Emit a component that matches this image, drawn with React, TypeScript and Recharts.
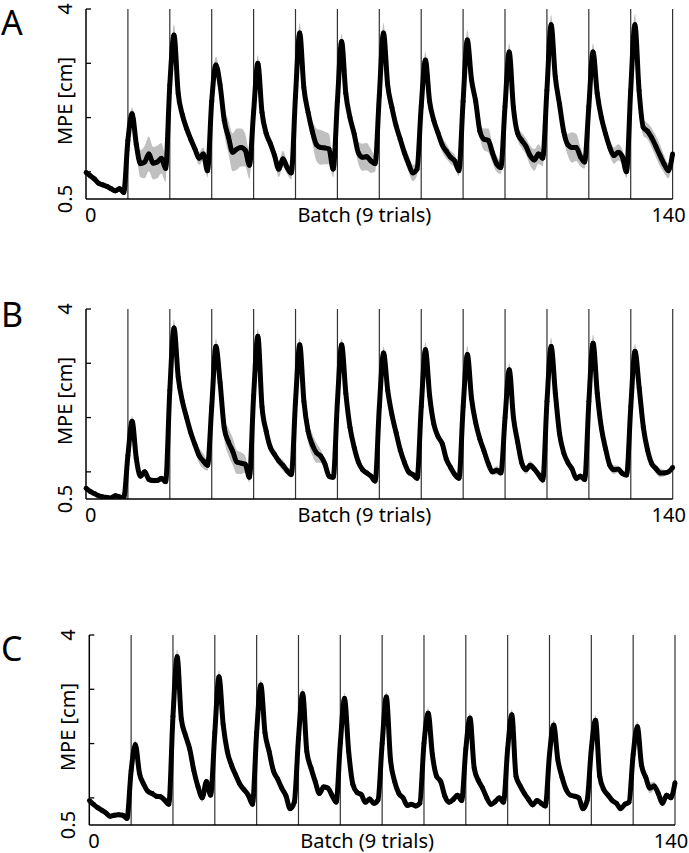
import { Area, ComposedChart, Label, Line, ReferenceLine, XAxis, YAxis } from "recharts";

const FONT = '"Noto Sans", "DejaVu Sans", sans-serif';

// mean movement-path error per batch (0..140), one array per condition
const mpeA = [
  0.99, 0.93, 0.87, 0.79, 0.76, 0.73, 0.69, 0.65, 0.69, 0.62,
  1.58, 2.07, 1.51, 1.15, 1.18, 1.33, 1.16, 1.18, 1.25, 1.06,
  2.6, 3.52, 2.45, 2.05, 1.8, 1.6, 1.42, 1.25, 1.33, 1.02,
  2.3, 2.97, 2.6, 1.95, 1.64, 1.36, 1.42, 1.45, 1.4, 1.12,
  2.1, 3.0, 2.1, 1.71, 1.52, 1.3, 1.05, 1.24, 1.08, 0.98,
  2.4, 3.56, 2.55, 2.1, 1.75, 1.5, 1.45, 1.44, 1.42, 1.05,
  2.3, 3.4, 2.45, 2.0, 1.7, 1.35, 1.27, 1.28, 1.2, 1.15,
  2.4, 3.56, 2.6, 2.19, 1.85, 1.6, 1.35, 1.15, 0.98, 1.05,
  2.2, 3.06, 2.3, 1.95, 1.72, 1.5, 1.38, 1.27, 1.2, 1.02,
  2.3, 3.43, 2.7, 2.3, 1.75, 1.6, 1.58, 1.35, 1.15, 1.08,
  2.2, 3.21, 2.19, 1.71, 1.58, 1.47, 1.3, 1.22, 1.33, 1.25,
  2.5, 3.71, 2.75, 2.25, 1.75, 1.5, 1.45, 1.45, 1.28, 1.18,
  2.2, 3.21, 2.45, 2.0, 1.7, 1.45, 1.3, 1.36, 1.28, 1.0,
  2.5, 3.71, 2.5, 1.82, 1.75, 1.63, 1.47, 1.3, 1.14, 1.02,
  1.33,
];
const semA = [
  0.05, 0.05, 0.05, 0.05, 0.05, 0.05, 0.05, 0.05, 0.05, 0.05,
  0.1, 0.12, 0.15, 0.25, 0.3, 0.32, 0.3, 0.3, 0.28, 0.25,
  0.12, 0.2, 0.12, 0.1, 0.1, 0.1, 0.1, 0.12, 0.12, 0.12,
  0.12, 0.15, 0.18, 0.25, 0.3, 0.35, 0.38, 0.35, 0.3, 0.25,
  0.12, 0.15, 0.12, 0.12, 0.12, 0.12, 0.15, 0.15, 0.12, 0.12,
  0.15, 0.18, 0.12, 0.12, 0.2, 0.3, 0.32, 0.3, 0.28, 0.15,
  0.12, 0.15, 0.1, 0.1, 0.15, 0.2, 0.25, 0.25, 0.22, 0.15,
  0.12, 0.18, 0.1, 0.1, 0.1, 0.12, 0.15, 0.15, 0.15, 0.12,
  0.12, 0.15, 0.12, 0.12, 0.12, 0.14, 0.14, 0.12, 0.12, 0.1,
  0.12, 0.18, 0.15, 0.12, 0.12, 0.2, 0.22, 0.18, 0.15, 0.12,
  0.12, 0.16, 0.12, 0.12, 0.14, 0.15, 0.18, 0.2, 0.18, 0.15,
  0.12, 0.18, 0.15, 0.12, 0.15, 0.2, 0.28, 0.25, 0.18, 0.12,
  0.12, 0.16, 0.12, 0.12, 0.14, 0.14, 0.15, 0.15, 0.14, 0.12,
  0.15, 0.2, 0.15, 0.15, 0.15, 0.18, 0.2, 0.2, 0.16, 0.14,
  0.1,
];

const mpeB = [
  0.7, 0.64, 0.6, 0.56, 0.54, 0.53, 0.52, 0.56, 0.54, 0.52,
  1.3, 1.93, 1.25, 0.92, 1.0, 0.86, 0.84, 0.84, 0.88, 0.82,
  2.5, 3.65, 2.75, 2.3, 2.0, 1.72, 1.5, 1.3, 1.2, 1.12,
  2.2, 3.31, 2.64, 1.8, 1.55, 1.38, 1.18, 1.16, 1.14, 0.9,
  2.4, 3.5, 2.2, 1.75, 1.45, 1.32, 1.2, 1.12, 1.02, 0.95,
  2.3, 3.34, 2.3, 1.75, 1.5, 1.35, 1.29, 1.15, 0.92, 0.9,
  2.3, 3.34, 2.45, 1.82, 1.45, 1.18, 1.04, 0.98, 0.92, 0.83,
  2.2, 3.19, 2.5, 2.05, 1.72, 1.4, 1.17, 1.0, 0.95, 0.88,
  2.2, 3.25, 2.4, 1.88, 1.65, 1.52, 1.23, 1.08, 0.95, 0.88,
  2.2, 3.16, 2.35, 1.9, 1.6, 1.38, 1.15, 1.0, 1.03, 0.98,
  2.0, 2.88, 2.0, 1.55, 1.16, 1.04, 1.12, 1.05, 0.95, 0.85,
  2.3, 3.31, 2.45, 1.7, 1.35, 1.17, 1.05, 0.88, 0.92, 0.86,
  2.3, 3.37, 2.45, 1.8, 1.42, 1.12, 1.04, 1.05, 0.97, 0.94,
  2.2, 3.22, 2.55, 1.82, 1.4, 1.15, 1.06, 0.98, 0.98, 1.0,
  1.08,
];
const semB = [
  0.03, 0.03, 0.03, 0.03, 0.03, 0.03, 0.03, 0.03, 0.03, 0.03,
  0.06, 0.1, 0.06, 0.05, 0.05, 0.05, 0.05, 0.05, 0.05, 0.05,
  0.1, 0.15, 0.08, 0.06, 0.06, 0.07, 0.1, 0.14, 0.14, 0.1,
  0.1, 0.14, 0.1, 0.2, 0.25, 0.25, 0.22, 0.2, 0.15, 0.1,
  0.1, 0.14, 0.08, 0.06, 0.06, 0.06, 0.08, 0.1, 0.08, 0.06,
  0.1, 0.12, 0.1, 0.18, 0.2, 0.18, 0.12, 0.08, 0.06, 0.05,
  0.1, 0.12, 0.08, 0.12, 0.1, 0.07, 0.06, 0.05, 0.05, 0.05,
  0.1, 0.12, 0.08, 0.06, 0.08, 0.12, 0.12, 0.08, 0.05, 0.05,
  0.1, 0.14, 0.08, 0.06, 0.06, 0.06, 0.06, 0.05, 0.05, 0.05,
  0.1, 0.16, 0.06, 0.06, 0.06, 0.06, 0.06, 0.06, 0.08, 0.06,
  0.08, 0.12, 0.06, 0.06, 0.06, 0.08, 0.08, 0.06, 0.05, 0.05,
  0.1, 0.16, 0.06, 0.06, 0.06, 0.06, 0.06, 0.06, 0.06, 0.05,
  0.1, 0.16, 0.06, 0.06, 0.08, 0.08, 0.08, 0.06, 0.05, 0.05,
  0.1, 0.14, 0.06, 0.06, 0.06, 0.06, 0.08, 0.08, 0.06, 0.05,
  0.05,
];

const mpeC = [
  0.95, 0.88, 0.82, 0.77, 0.72, 0.66, 0.68, 0.69, 0.68, 0.62,
  1.5, 1.98, 1.45, 1.25, 1.12, 1.08, 1.03, 1.02, 0.96, 0.88,
  2.5, 3.6, 2.45, 2.15, 1.9, 1.5, 1.2, 1.0, 1.3, 1.05,
  2.2, 3.23, 2.35, 1.85, 1.6, 1.42, 1.25, 1.15, 1.05, 0.88,
  2.2, 3.08, 2.2, 1.85, 1.5, 1.35, 1.18, 1.04, 0.8, 0.92,
  2.1, 2.92, 1.85, 1.55, 1.3, 1.08, 1.2, 1.18, 1.05, 0.92,
  2.0, 2.83, 1.85, 1.25, 1.1, 1.06, 0.92, 0.98, 0.9, 0.96,
  2.0, 2.86, 1.7, 1.3, 1.08, 1.0, 0.86, 0.88, 0.85, 0.9,
  2.0, 2.56, 1.8, 1.4, 1.3, 1.03, 0.92, 0.97, 1.05, 0.95,
  1.9, 2.47, 1.55, 1.32, 1.18, 1.0, 0.88, 0.93, 1.0, 0.92,
  1.9, 2.53, 1.4, 1.22, 1.08, 0.97, 0.87, 0.95, 0.9, 0.85,
  1.8, 2.34, 1.7, 1.38, 1.15, 1.05, 1.03, 1.0, 0.8, 0.95,
  1.9, 2.43, 1.4, 1.15, 1.05, 0.95, 0.9, 0.8, 0.88, 0.92,
  1.8, 2.31, 1.6, 1.38, 1.18, 1.22, 1.08, 0.9, 1.05, 1.0,
  1.28,
];
const semC = [
  0.03, 0.03, 0.03, 0.03, 0.03, 0.03, 0.03, 0.03, 0.03, 0.03,
  0.05, 0.08, 0.05, 0.04, 0.04, 0.04, 0.04, 0.04, 0.04, 0.04,
  0.06, 0.14, 0.08, 0.1, 0.12, 0.12, 0.1, 0.08, 0.06, 0.05,
  0.06, 0.12, 0.08, 0.12, 0.12, 0.1, 0.08, 0.06, 0.05, 0.05,
  0.05, 0.1, 0.05, 0.05, 0.05, 0.05, 0.05, 0.05, 0.04, 0.04,
  0.05, 0.1, 0.05, 0.05, 0.05, 0.05, 0.05, 0.05, 0.04, 0.04,
  0.05, 0.1, 0.05, 0.05, 0.04, 0.04, 0.04, 0.04, 0.04, 0.04,
  0.05, 0.1, 0.05, 0.04, 0.04, 0.04, 0.04, 0.04, 0.04, 0.04,
  0.05, 0.1, 0.05, 0.05, 0.05, 0.04, 0.04, 0.04, 0.04, 0.04,
  0.05, 0.1, 0.05, 0.04, 0.04, 0.04, 0.04, 0.04, 0.04, 0.04,
  0.05, 0.1, 0.05, 0.04, 0.04, 0.04, 0.04, 0.04, 0.04, 0.04,
  0.05, 0.1, 0.05, 0.04, 0.04, 0.04, 0.04, 0.04, 0.04, 0.04,
  0.05, 0.1, 0.05, 0.05, 0.04, 0.04, 0.04, 0.04, 0.04, 0.04,
  0.05, 0.1, 0.06, 0.08, 0.1, 0.08, 0.06, 0.05, 0.05, 0.04,
  0.04,
];

const blockLines = [10, 20, 30, 40, 50, 60, 70, 80, 90, 100, 110, 120, 130, 140];
const yTicks = [0.5, 1, 2, 3, 4];
const yTickLabels = [0.5, 4];
const xTicks = [0, 140];
const xTitle = "Batch (9 trials)";
const yTitle = "MPE [cm]";

type Row = { batch: number; mpe: number; band: [number, number] };

function toRows(mpe: number[], sem: number[]): Row[] {
  return mpe.map((v, i) => ({ batch: i, mpe: v, band: [v - sem[i], v + sem[i]] }));
}

const panels = [
  { letter: "A", plotTop: 9.3, plotLeft: 86, plotRight: 672.6, letterY: 35, rows: toRows(mpeA, semA) },
  { letter: "B", plotTop: 309.3, plotLeft: 86, plotRight: 672.7, letterY: 327, rows: toRows(mpeB, semB) },
  { letter: "C", plotTop: 634.9, plotLeft: 89.3, plotRight: 675, letterY: 661, rows: toRows(mpeC, semC) },
];

const W = 689;
const PLOT_H = 190;
const TOP_PAD = 10;
const X_AXIS_H = 50;

function YTick(props: any) {
  const { x, y, payload } = props;
  const v = payload.value as number;
  return (
    <g>
      {v !== 0.5 && <line x1={x} x2={x + 5} y1={y} y2={y} stroke="#000" strokeWidth={1.3} />}
      {yTickLabels.includes(v) && (
        <text
          transform={`translate(${x - 22},${y}) rotate(-90)`}
          textAnchor="middle"
          dominantBaseline="central"
          fontSize={20}
          fontFamily={FONT}
          fill="#000"
        >
          {String(v)}
        </text>
      )}
    </g>
  );
}

function XTick(props: any) {
  const { x, y, payload } = props;
  const v = payload.value as number;
  return (
    <text
      x={v === 0 ? x - 1 : x - 4}
      y={y + 23}
      textAnchor={v === 0 ? "start" : "middle"}
      fontSize={20}
      fontFamily={FONT}
      fill="#000"
    >
      {String(v)}
    </text>
  );
}

function Panel({ p }: { p: (typeof panels)[number] }) {
  return (
    <div style={{ position: "absolute", left: 0, top: p.plotTop - TOP_PAD }}>
      <ComposedChart
        width={W}
        height={TOP_PAD + PLOT_H + X_AXIS_H}
        data={p.rows}
        margin={{ top: TOP_PAD, right: W - p.plotRight, bottom: 0, left: 0 }}
      >
        <XAxis
          type="number"
          dataKey="batch"
          domain={[0, 140]}
          ticks={xTicks}
          interval={0}
          height={X_AXIS_H}
          tickLine={false}
          tickSize={0}
          tickMargin={0}
          tick={<XTick />}
          axisLine={{ stroke: "#000", strokeWidth: 1.5 }}
        >
          <Label
            content={(lp: any) => {
              const vb = lp.viewBox;
              return (
                <text
                  x={vb.x + vb.width / 2 - 15}
                  y={vb.y + 23}
                  textAnchor="middle"
                  fontSize={20}
                  fontFamily={FONT}
                  fill="#000"
                >
                  {xTitle}
                </text>
              );
            }}
          />
        </XAxis>
        <YAxis
          type="number"
          domain={[0.5, 4]}
          ticks={yTicks}
          interval={0}
          allowDataOverflow
          width={p.plotLeft}
          tickLine={false}
          tickSize={0}
          tickMargin={0}
          tick={<YTick />}
          axisLine={{ stroke: "#000", strokeWidth: 1.5 }}
        >
          <Label
            content={(lp: any) => {
              const vb = lp.viewBox;
              const cx = vb.x + vb.width - 22;
              const cy = vb.y + vb.height / 2 - 3;
              return (
                <text
                  transform={`translate(${cx},${cy}) rotate(-90)`}
                  textAnchor="middle"
                  dominantBaseline="central"
                  fontSize={20}
                  fontFamily={FONT}
                  fill="#000"
                >
                  {yTitle}
                </text>
              );
            }}
          />
        </YAxis>
        {blockLines.map((b) => (
          <ReferenceLine key={b} x={b} stroke="#333" strokeWidth={1.2} />
        ))}
        <Area
          type="monotoneX"
          dataKey="band"
          stroke="none"
          fill="#c0c0c0"
          fillOpacity={1}
          isAnimationActive={false}
        />
        <Line
          type="monotoneX"
          dataKey="mpe"
          stroke="#000"
          strokeWidth={5}
          strokeLinejoin="round"
          dot={{ r: 2.4, fill: "#000", stroke: "none" }}
          isAnimationActive={false}
        />
      </ComposedChart>
    </div>
  );
}

export default function App() {
  return (
    <div style={{ position: "absolute", left: 0, top: 0, width: W, height: 853, background: "#fff" }}>
      {panels.map((p) => (
        <Panel key={p.letter} p={p} />
      ))}
      <svg width={W} height={853} style={{ position: "absolute", left: 0, top: 0, pointerEvents: "none" }}>
        {panels.map((p) => (
          <text key={p.letter} x={1} y={p.letterY} fontSize={34} fontFamily={FONT} fill="#000">
            {p.letter}
          </text>
        ))}
      </svg>
    </div>
  );
}
